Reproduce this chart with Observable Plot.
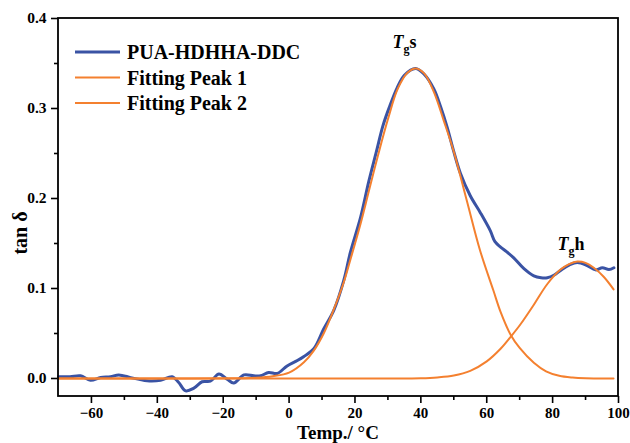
<!DOCTYPE html>
<html><head><meta charset="utf-8">
<script src="https://cdn.jsdelivr.net/npm/d3@7"></script>
<script src="https://cdn.jsdelivr.net/npm/@observablehq/plot@0.6"></script>
<style>
body{margin:0;background:#fff}
#chart{width:630px;height:443px}
#chart svg text{font-weight:bold}
</style>
</head><body><div id="chart"></div>
<script>
// ---- data ----
const seriesNames = ["PUA-HDHHA-DDC", "Fitting Peak 1", "Fitting Peak 2"];

const measuredTemp = [-70,-66.5,-63.3,-60.3,-57.2,-54.2,-51.7,-48.1,-45.5,-43.1,-39.0,-35.5,-33.5,-31.4,-28.9,-26.4,-23.9,-21.3,-18.8,-16.8,-13.7,-10.7,-8.7,-6.2,-3.6,-0.6,2.5,4.5,7.5,10.5,13.6,16.6,18.6,21.7,24.2,26.5,28.5,30.5,32.8,35.0,38.4,41.0,43.9,46.0,48.0,50.0,52.0,55.0,58.1,61.1,62.5,64.2,66.0,68.2,71.3,74.3,76.5,78.4,80.5,82.4,85.0,87.5,90.5,93.0,95.1,97.1,98.6];
const measuredTan = [0.002,0.002,0.003,-0.002,0.001,0.002,0.004,0.001,-0.001,-0.0026,-0.002,0.002,-0.0045,-0.0137,-0.0107,-0.0036,-0.003,0.005,-0.0007,-0.005,0.004,0.003,0.003,0.0067,0.0056,0.014,0.020,0.0245,0.033,0.055,0.076,0.109,0.14,0.179,0.219,0.252,0.281,0.302,0.323,0.337,0.3445,0.338,0.322,0.302,0.279,0.252,0.228,0.203,0.184,0.164,0.152,0.146,0.141,0.134,0.122,0.114,0.112,0.112,0.115,0.120,0.126,0.129,0.1255,0.1207,0.123,0.121,0.123];

const peak1Temp = [-70,-30,-15,-10,-5,0,4.5,7.5,10.5,13.6,16.6,18.6,21.7,24.2,27,30,33,36,38.5,41,44,47,50,54,58,62,64.2,67.2,70,74.3,78,82,86,90,98.5];
const peak1Tan = [0,0,0.0003,0.0008,0.0025,0.0065,0.018,0.031,0.05,0.077,0.107,0.132,0.172,0.208,0.248,0.288,0.322,0.340,0.3445,0.339,0.318,0.286,0.252,0.197,0.142,0.098,0.074,0.049,0.034,0.0175,0.008,0.003,0.001,0.0002,0];

const peak2Temp = [-70,30,40,45,50,55,60,64.2,67.2,70.2,74.3,78.4,82.4,85,87.5,90,92.5,95.5,98.5];
const peak2Tan = [0,0,0.0003,0.0012,0.0033,0.0085,0.019,0.033,0.046,0.060,0.082,0.105,0.121,0.127,0.130,0.1285,0.123,0.113,0.099];

const xMajorTicks = [-60,-40,-20,0,20,40,60,80,100];
const xMinorTicks = [-50,-30,-10,10,30,50,70,90];
const yMajorTicks = [0,0.1,0.2,0.3,0.4];
const yMinorTicks = [0.05,0.15,0.25,0.35];

const tgLabels = [
  {temp: 31.4, tan: 0.3736, base: "T", sub: "g", tail: "s"},
  {temp: 81.5, tan: 0.1487, base: "T", sub: "g", tail: "h"}
];
const xTitle = "Temp./ °C";
const yTitle = "tan δ";

// ---- styles ----
const blue = "#3A53A4";
const orange = "#F4802F";
const seriesColors = [blue, orange, orange];
const seriesWidths = [3, 2, 2];
const serif = "'Liberation Serif','Times New Roman',serif";

const rows = (T, V) => T.map((t, i) => ({t, v: V[i]}));
const measured = rows(measuredTemp, measuredTan);
const fit1 = rows(peak1Temp, peak1Tan);
const fit2 = rows(peak2Temp, peak2Tan);

const chart = Plot.plot({
  width: 630, height: 443,
  marginLeft: 58, marginRight: 12, marginTop: 18, marginBottom: 47,
  x: {domain: [-70, 100], label: null},
  y: {domain: [-0.02, 0.4], label: null},
  style: {fontFamily: serif, fontWeight: "bold", fontSize: "15px", background: "white", color: "black"},
  marks: [
    Plot.axisX(xMajorTicks, {tickSize: 7, tickPadding: 4, strokeWidth: 1.6, label: null, fontSize: 15}),
    Plot.axisX(xMinorTicks, {tickSize: 4, strokeWidth: 1.6, tickFormat: () => "", label: null}),
    Plot.axisY(yMajorTicks, {tickSize: 7, tickPadding: 5, strokeWidth: 1.6, tickFormat: d3.format(".1f"), label: null, fontSize: 15.5}),
    Plot.axisY(yMinorTicks, {tickSize: 4, strokeWidth: 1.6, tickFormat: () => "", label: null}),
    Plot.line(measured, {x: "t", y: "v", stroke: blue, strokeWidth: 3, curve: "catmull-rom"}),
    Plot.line(fit2, {x: "t", y: "v", stroke: orange, strokeWidth: 2, curve: "catmull-rom"}),
    Plot.line(fit1, {x: "t", y: "v", stroke: orange, strokeWidth: 2, curve: "catmull-rom"}),
    Plot.text(tgLabels, {x: "temp", y: "tan", text: d => d.base + d.sub + d.tail, textAnchor: "start", fontSize: 18, lineAnchor: "middle"})
  ]
});
document.getElementById("chart").appendChild(chart);

const svg = d3.select(chart);
const [x0, x1] = chart.scale("x").range;
const [yB, yT] = chart.scale("y").range;

// tick label typography
svg.selectAll('g[aria-label="x-axis tick label"]').attr("font-size", 15).attr("font-weight", "bold")
  .selectAll("text").attr("font-size", 15).attr("font-weight", "bold").attr("fill", "black");
svg.selectAll('g[aria-label="y-axis tick label"]').attr("font-size", 15.5).attr("font-weight", "bold")
  .selectAll("text").attr("font-size", 15.5).attr("font-weight", "bold").attr("fill", "black");

// frame box
svg.append("rect")
  .attr("x", Math.min(x0, x1)).attr("y", Math.min(yB, yT))
  .attr("width", Math.abs(x1 - x0)).attr("height", Math.abs(yB - yT))
  .attr("fill", "none").attr("stroke", "black").attr("stroke-width", 1.8);

// rich text for Tg labels
const labelStrings = tgLabels.map(d => d.base + d.sub + d.tail);
svg.selectAll("text").filter(function() { return labelStrings.includes(this.textContent); })
  .each(function() {
    const d = tgLabels[labelStrings.indexOf(this.textContent)];
    const t = d3.select(this);
    t.text(null);
    t.append("tspan").attr("font-style", "italic").text(d.base);
    t.append("tspan").attr("font-size", 12).attr("dy", 5).text(d.sub);
    t.append("tspan").attr("dy", -5).text(d.tail);
  });

// axis titles
const titles = svg.append("g").attr("font-family", serif).attr("font-weight", "bold").attr("font-size", 19).attr("fill", "black");
titles.append("text").attr("x", (x0 + x1) / 2).attr("y", yB + 42.8).attr("text-anchor", "middle").text(xTitle);
titles.append("text").attr("font-size", 20).attr("transform", `translate(27,${(yB + yT) / 2 + 26}) rotate(-90)`).attr("text-anchor", "middle").text(yTitle);

// legend
const leg = svg.append("g").attr("font-family", serif).attr("font-weight", "bold").attr("font-size", 20);
seriesNames.forEach((name, i) => {
  const y = 52 + i * 25.5;
  leg.append("line").attr("x1", 75).attr("x2", 120).attr("y1", y).attr("y2", y)
    .attr("stroke", seriesColors[i]).attr("stroke-width", seriesWidths[i]);
  leg.append("text").attr("x", 127).attr("y", y).attr("dy", "0.37em").attr("text-anchor", "start").attr("fill", "black").text(name);
});
</script>
</body></html>
